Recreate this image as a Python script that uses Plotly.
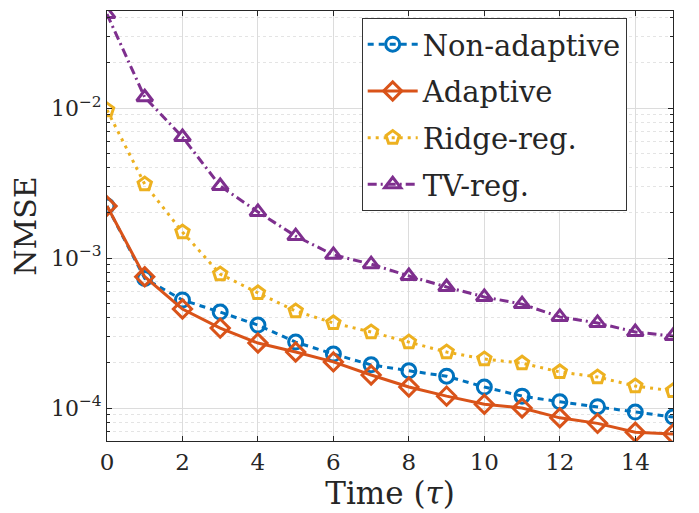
import plotly.graph_objects as go

time = list(range(16))
non_adaptive = [2.22e-3, 7.3e-4, 5.25e-4, 4.36e-4, 3.57e-4, 2.75e-4, 2.29e-4, 1.94e-4,
                1.77e-4, 1.63e-4, 1.38e-4, 1.20e-4, 1.10e-4, 1.02e-4, 9.4e-5, 8.7e-5]
adaptive = [2.22e-3, 7.5e-4, 4.57e-4, 3.41e-4, 2.71e-4, 2.36e-4, 2.03e-4, 1.66e-4,
            1.38e-4, 1.20e-4, 1.06e-4, 1.00e-4, 8.6e-5, 7.9e-5, 6.9e-5, 6.7e-5]
ridge = [9.7e-3, 3.11e-3, 1.49e-3, 7.82e-4, 5.85e-4, 4.43e-4, 3.69e-4, 3.21e-4,
         2.75e-4, 2.36e-4, 2.12e-4, 1.99e-4, 1.74e-4, 1.61e-4, 1.40e-4, 1.30e-4]
tv = [4.23e-2, 1.18e-2, 6.41e-3, 3.02e-3, 2.03e-3, 1.40e-3, 1.05e-3, 9.1e-4,
      7.59e-4, 6.41e-4, 5.5e-4, 4.93e-4, 4.05e-4, 3.69e-4, 3.21e-4, 3.02e-4]

series_names = ["Non-adaptive", "Adaptive", "Ridge-reg.", "TV-reg."]
series_data = [non_adaptive, adaptive, ridge, tv]
colors = ["#0072BD", "#D95319", "#EDB120", "#7E2F8E"]
dashes = ["6px,5px", "solid", "3px,5px", "9px,4px,2px,4px"]
symbols = ["circle-open", "diamond-open", "pentagon-open", "triangle-up-open"]

y_tickvals = [1e-4, 1e-3, 1e-2]
y_ticktext = ["10<sup>−4</sup>", "10<sup>−3</sup>", "10<sup>−2</sup>"]
x_tickvals = [0, 2, 4, 6, 8, 10, 12, 14]

minor_vals = [m * 10.0 ** e for e in range(-5, -1) for m in range(2, 10)]

FONT = "DejaVu Serif, Liberation Serif, serif"
TXT = "#262626"

fig = go.Figure()
for name, ys, c, d, s in zip(series_names, series_data, colors, dashes, symbols):
    fig.add_trace(go.Scatter(
        x=time, y=ys, name=name, mode="lines+markers", legendgroup=name,
        line=dict(color=c, width=3, dash=d),
        marker=dict(symbol=s, size=14, color=c, line=dict(width=3, color=c)),
    ))

# the page body adds an 8px offset, so the figure is 8px smaller and margins shifted
fig.update_layout(
    width=691, height=505,
    margin=dict(l=99, r=26, t=3, b=72),
    paper_bgcolor="white", plot_bgcolor="white",
    font=dict(family=FONT, color=TXT),
    showlegend=True,
    legend=dict(
        x=0.45, y=0.984, xanchor="left", yanchor="top",
        bgcolor="white", bordercolor="#333333", borderwidth=1,
        font=dict(family=FONT, size=29, color=TXT),
        itemwidth=50, tracegroupgap=6,
    ),
)
fig.update_xaxes(
    range=[0, 15], tickvals=x_tickvals, automargin=False,
    showgrid=True, gridcolor="#dcdcdc", gridwidth=1,
    ticks="inside", ticklen=5, tickcolor=TXT,
    showline=True, linecolor=TXT, linewidth=1, mirror="ticks",
    tickfont=dict(family=FONT, size=23, color=TXT),
    title=dict(text="Time (<i>τ</i>)", font=dict(family=FONT, size=31, color=TXT), standoff=8),
    zeroline=False,
)
fig.update_yaxes(
    type="log", range=[-4.22, -1.353], automargin=False,
    tickvals=y_tickvals, ticktext=y_ticktext,
    showgrid=True, gridcolor="#dcdcdc", gridwidth=1,
    ticks="inside", ticklen=5, tickcolor=TXT,
    showline=True, linecolor=TXT, linewidth=1, mirror="ticks",
    tickfont=dict(family=FONT, size=22, color=TXT),
    title=dict(text="NMSE", font=dict(family=FONT, size=30, color=TXT), standoff=10),
    minor=dict(tickvals=minor_vals, ticks="inside", ticklen=3, tickcolor=TXT,
               showgrid=True, gridcolor="#e4e4e4", griddash="dot", gridwidth=1),
    zeroline=False,
)

fig.write_html("out.html")
